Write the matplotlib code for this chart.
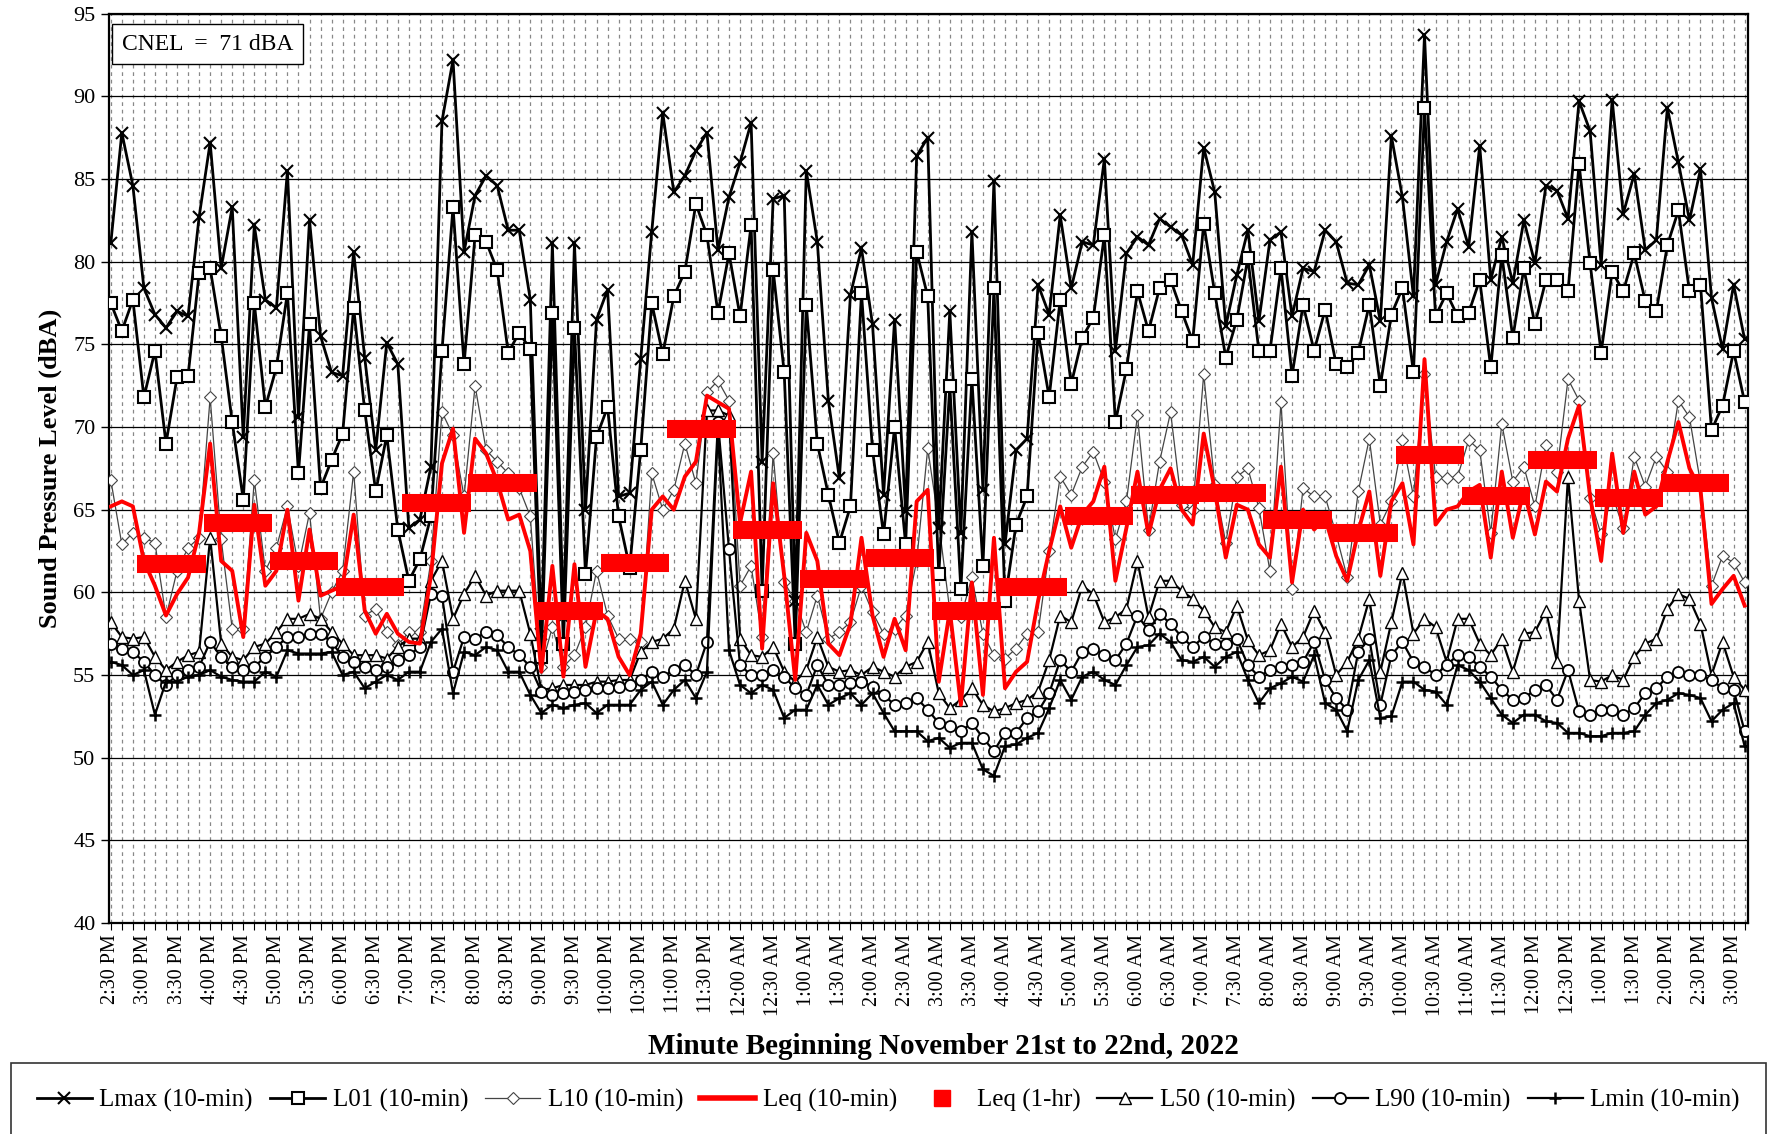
import matplotlib.pyplot as plt
import numpy as np
from matplotlib.lines import Line2D

plt.rcParams['font.family'] = ['Liberation Serif', 'DejaVu Serif']

# 10-minute values, 2:30 PM Nov 21 to 3:10 PM Nov 22
lmax = [81.1, 87.8, 84.6, 78.4, 76.8, 76.0, 77.0, 76.7, 82.7, 87.2, 79.6, 83.3, 69.4, 82.2, 77.7, 77.2, 85.5, 70.6, 82.5, 75.5,
        73.3, 73.1, 80.6, 74.2, 68.6, 75.1, 73.8, 63.9, 64.4, 67.6, 88.5, 92.2, 80.6, 84.0, 85.2, 84.6, 81.9, 81.9, 77.7, 57.5,
        81.1, 58.5, 81.1, 65.0, 76.5, 78.3, 65.8, 66.0, 74.1, 81.8, 89.0, 84.2, 85.2, 86.7, 87.8, 80.7, 83.9, 86.0, 88.4, 67.9,
        83.8, 84.0, 59.5, 85.5, 81.2, 71.6, 66.9, 78.0, 80.8, 76.2, 65.9, 76.5, 64.9, 86.4, 87.5, 63.9, 77.0, 63.6, 81.8, 66.2,
        84.9, 62.9, 68.6, 69.3, 78.6, 76.8, 82.8, 78.4, 81.2, 81.0, 86.2, 74.6, 80.5, 81.5, 81.0, 82.6, 82.1, 81.6, 79.8, 86.9,
        84.2, 76.1, 79.2, 81.9, 76.4, 81.3, 81.8, 76.7, 79.6, 79.4, 81.9, 81.2, 78.7, 78.6, 79.8, 76.4, 87.6, 83.9, 77.9, 93.7,
        78.6, 81.2, 83.2, 80.9, 87.0, 78.9, 81.5, 78.7, 82.5, 79.9, 84.6, 84.3, 82.6, 89.7, 87.9, 79.8, 89.8, 82.9, 85.3, 80.7,
        81.3, 89.3, 86.0, 82.5, 85.6, 77.8, 74.7, 78.6, 75.3]
l01 = [77.5, 75.8, 77.7, 71.8, 74.6, 69.0, 73.0, 73.1, 79.3, 79.6, 75.5, 70.3, 65.6, 77.5, 71.2, 73.6, 78.1, 67.2, 76.2, 66.3,
       68.0, 69.6, 77.2, 71.0, 66.1, 69.5, 63.8, 60.7, 62.0, 64.6, 74.6, 83.3, 73.8, 81.6, 81.2, 79.5, 74.5, 75.7, 74.7, 56.1,
       76.9, 56.9, 76.0, 61.1, 69.4, 71.2, 64.6, 61.5, 68.6, 77.5, 74.4, 77.9, 79.4, 83.5, 81.6, 76.9, 80.5, 76.7, 82.2, 60.1,
       79.5, 73.3, 56.9, 77.4, 69.0, 65.9, 63.0, 65.2, 78.1, 68.6, 63.5, 70.0, 62.9, 80.6, 77.9, 61.1, 72.5, 60.2, 72.9, 61.6,
       78.4, 59.5, 64.1, 65.8, 75.7, 71.8, 77.7, 72.6, 75.4, 76.6, 81.6, 70.3, 73.5, 78.2, 75.8, 78.4, 78.9, 77.0, 75.2, 82.3,
       78.1, 74.2, 76.5, 80.2, 74.6, 74.6, 79.6, 73.1, 77.4, 74.6, 77.1, 73.8, 73.6, 74.5, 77.4, 72.5, 76.8, 78.4, 73.3, 89.3,
       76.7, 78.1, 76.7, 76.9, 78.9, 73.6, 80.4, 75.4, 79.6, 76.2, 78.9, 78.9, 78.2, 85.9, 79.9, 74.5, 79.4, 78.2, 80.5, 77.6,
       77.0, 81.0, 83.1, 78.2, 78.6, 69.8, 71.3, 74.6, 71.5]
l10 = [66.8, 62.9, 63.6, 63.3, 63.0, 58.5, 61.3, 62.7, 63.3, 71.8, 63.2, 57.8, 57.8, 66.8, 61.3, 62.7, 65.2, 61.6, 64.8, 58.4,
       60.0, 61.3, 67.3, 58.6, 59.0, 57.6, 56.8, 57.6, 57.6, 61.9, 70.9, 69.5, 65.8, 72.5, 68.6, 67.9, 67.2, 66.3, 64.6, 55.5,
       57.9, 55.5, 56.2, 57.9, 61.3, 58.6, 57.2, 57.2, 57.0, 67.2, 65.0, 66.2, 69.0, 66.6, 72.1, 72.8, 71.6, 60.4, 61.6, 57.3,
       68.4, 60.6, 59.5, 57.6, 59.8, 57.2, 57.6, 58.2, 60.4, 58.8, 57.5, 57.8, 58.6, 61.9, 68.7, 64.2, 58.9, 58.5, 60.9, 57.5,
       56.2, 56.0, 56.6, 57.5, 57.6, 62.5, 67.0, 65.9, 67.6, 68.5, 66.7, 63.2, 65.5, 70.7, 63.8, 67.9, 70.9, 65.3, 65.0, 73.2,
       66.5, 63.0, 67.0, 67.5, 65.1, 61.3, 71.5, 60.2, 66.3, 65.8, 65.8, 63.5, 60.9, 66.1, 69.3, 64.1, 65.5, 69.2, 65.8, 73.2,
       67.0, 66.9, 67.0, 69.2, 68.6, 63.6, 70.2, 66.7, 67.6, 65.2, 68.9, 67.3, 72.9, 71.6, 65.7, 63.5, 65.9, 63.9, 68.2, 66.4,
       68.2, 67.3, 71.6, 70.6, 66.6, 60.4, 62.2, 61.8, 60.6]
leq = [65.2, 65.5, 65.2, 61.9, 60.4, 58.6, 59.9, 60.9, 63.6, 69.0, 61.9, 61.3, 57.3, 65.3, 60.4, 61.3, 65.0, 59.5, 63.8, 59.8,
       60.1, 60.4, 64.7, 58.9, 57.5, 58.7, 57.5, 57.0, 56.9, 61.0, 67.8, 69.9, 63.6, 69.3, 68.4, 66.7, 64.4, 64.7, 62.5, 55.2,
       61.6, 54.9, 61.7, 55.5, 58.9, 58.4, 56.1, 55.0, 57.5, 65.0, 65.8, 65.0, 67.0, 67.9, 71.9, 71.5, 71.1, 64.2, 67.3, 56.6,
       66.6, 61.0, 54.7, 63.6, 61.9, 56.9, 56.2, 58.1, 63.3, 58.6, 56.1, 58.4, 56.5, 65.5, 66.2, 54.6, 58.9, 53.2, 60.6, 53.8,
       63.3, 54.2, 55.2, 55.8, 59.5, 62.5, 65.2, 62.7, 64.7, 65.5, 67.6, 60.7, 63.9, 67.3, 63.5, 66.2, 67.5, 65.0, 64.1, 69.6,
       66.2, 62.1, 65.3, 65.0, 62.9, 62.1, 67.6, 60.6, 65.0, 63.8, 64.5, 62.2, 60.7, 63.7, 66.1, 61.0, 65.5, 66.6, 62.9, 74.1,
       64.1, 65.0, 65.2, 66.1, 66.5, 62.1, 67.3, 63.3, 66.2, 63.5, 66.7, 66.1, 69.3, 71.3, 65.8, 61.9, 68.4, 63.6, 67.3, 64.7,
       65.2, 67.9, 70.3, 67.5, 66.2, 59.3, 60.2, 61.0, 59.2]
l50 = [58.2, 57.3, 57.2, 57.3, 56.1, 55.3, 55.8, 56.2, 56.4, 63.3, 56.9, 56.1, 55.9, 56.7, 56.9, 57.6, 58.4, 58.4, 58.7, 58.4,
       57.6, 56.9, 56.2, 56.2, 56.2, 56.0, 56.7, 57.2, 57.2, 60.7, 61.9, 58.4, 59.9, 61.0, 59.8, 60.1, 60.1, 60.1, 57.5, 54.1,
       54.2, 54.4, 54.4, 54.4, 54.6, 54.6, 54.7, 54.7, 56.4, 57.0, 57.2, 57.8, 60.7, 58.4, 71.0, 71.0, 70.7, 57.2, 56.2, 56.1,
       56.7, 55.2, 54.6, 55.3, 57.3, 55.5, 55.2, 55.3, 55.0, 55.5, 55.2, 54.9, 55.5, 55.8, 57.0, 53.9, 53.0, 53.5, 54.2, 53.2,
       52.8, 53.0, 53.3, 53.5, 54.0, 55.9, 58.6, 58.2, 60.4, 59.9, 58.2, 58.5, 59.0, 61.9, 58.5, 60.7, 60.7, 60.1, 59.6, 58.9,
       57.9, 57.6, 59.2, 57.1, 56.2, 56.5, 58.1, 56.7, 57.3, 58.9, 57.6, 55.0, 55.8, 57.2, 59.6, 55.2, 58.2, 61.2, 57.5, 58.4,
       57.9, 55.8, 58.4, 58.4, 56.9, 56.2, 57.2, 55.2, 57.5, 57.6, 58.9, 55.8, 67.0, 59.5, 54.7, 54.6, 55.0, 54.7, 56.1, 56.9,
       57.2, 59.0, 59.9, 59.6, 58.1, 55.0, 57.0, 54.9, 54.1]
l90 = [56.9, 56.6, 56.4, 55.8, 55.0, 54.4, 55.0, 55.3, 55.5, 57.0, 56.1, 55.5, 55.3, 55.5, 56.1, 56.7, 57.3, 57.3, 57.5, 57.5,
       57.0, 56.1, 55.8, 55.5, 55.3, 55.5, 55.9, 56.2, 56.7, 59.9, 59.8, 55.2, 57.3, 57.2, 57.6, 57.4, 56.7, 56.2, 55.5, 54.0,
       53.8, 53.9, 54.0, 54.1, 54.2, 54.2, 54.3, 54.4, 54.7, 55.2, 54.9, 55.3, 55.6, 55.0, 57.0, 70.3, 62.6, 55.6, 55.0, 55.0,
       55.3, 54.9, 54.2, 53.8, 55.6, 54.4, 54.4, 54.5, 54.6, 54.3, 53.8, 53.2, 53.3, 53.6, 52.9, 52.1, 51.9, 51.6, 52.1, 51.2,
       50.4, 51.5, 51.5, 52.4, 52.8, 53.9, 55.9, 55.2, 56.4, 56.6, 56.2, 55.9, 56.9, 58.6, 57.7, 58.7, 58.1, 57.3, 56.7, 57.3,
       56.9, 56.9, 57.2, 55.6, 54.9, 55.3, 55.5, 55.6, 55.8, 57.0, 54.7, 53.6, 52.9, 56.4, 57.2, 53.2, 56.2, 57.0, 55.8, 55.5,
       55.0, 55.6, 56.2, 56.1, 55.5, 54.9, 54.1, 53.5, 53.6, 54.1, 54.4, 53.5, 55.3, 52.8, 52.6, 52.9, 52.9, 52.6, 53.0, 53.9,
       54.2, 54.9, 55.2, 55.0, 55.0, 54.7, 54.2, 54.1, 51.6]
lmin = [55.8, 55.6, 55.0, 55.3, 52.6, 54.6, 54.6, 54.9, 55.0, 55.3, 54.9, 54.7, 54.6, 54.6, 55.2, 54.9, 56.5, 56.3, 56.3, 56.3,
        56.4, 55.0, 55.2, 54.2, 54.6, 55.0, 54.7, 55.2, 55.2, 57.0, 57.8, 53.9, 56.4, 56.2, 56.7, 56.5, 55.2, 55.2, 53.8, 52.7,
        53.2, 53.0, 53.2, 53.3, 52.7, 53.2, 53.2, 53.2, 54.1, 54.6, 53.2, 54.1, 54.7, 53.6, 55.2, 69.8, 56.5, 54.4, 53.9, 54.4,
        54.1, 52.4, 52.9, 52.9, 54.4, 53.2, 53.6, 53.9, 53.2, 53.9, 52.7, 51.6, 51.6, 51.6, 51.0, 51.2, 50.6, 50.9, 50.9, 49.3,
        48.9, 50.7, 50.8, 51.2, 51.5, 53.0, 54.7, 53.5, 54.9, 55.2, 54.7, 54.4, 55.6, 56.7, 56.8, 57.5, 57.0, 55.9, 55.8, 56.1,
        55.5, 56.1, 56.4, 54.7, 53.3, 54.2, 54.5, 54.9, 54.6, 56.2, 53.3, 52.9, 51.6, 54.7, 55.9, 52.4, 52.5, 54.6, 54.6, 54.1,
        54.0, 53.2, 55.6, 55.3, 54.6, 53.6, 52.6, 52.1, 52.6, 52.6, 52.2, 52.1, 51.5, 51.5, 51.3, 51.3, 51.5, 51.5, 51.6, 52.6,
        53.3, 53.5, 53.9, 53.8, 53.6, 52.2, 52.9, 53.3, 50.7]

# hourly Leq, 3 PM Nov 21 through 2 PM Nov 22
leq_hr = [61.7, 64.2, 61.9, 60.3, 65.4, 66.6, 58.9, 61.8, 69.9, 63.8, 60.8, 62.1,
          58.9, 60.3, 64.6, 65.9, 66.0, 64.4, 63.6, 68.3, 65.8, 68.0, 65.7, 66.6]

time_labels = ["2:30 PM", "3:00 PM", "3:30 PM", "4:00 PM", "4:30 PM", "5:00 PM", "5:30 PM", "6:00 PM",
               "6:30 PM", "7:00 PM", "7:30 PM", "8:00 PM", "8:30 PM", "9:00 PM", "9:30 PM", "10:00 PM",
               "10:30 PM", "11:00 PM", "11:30 PM", "12:00 AM", "12:30 AM", "1:00 AM", "1:30 AM", "2:00 AM",
               "2:30 AM", "3:00 AM", "3:30 AM", "4:00 AM", "4:30 AM", "5:00 AM", "5:30 AM", "6:00 AM",
               "6:30 AM", "7:00 AM", "7:30 AM", "8:00 AM", "8:30 AM", "9:00 AM", "9:30 AM", "10:00 AM",
               "10:30 AM", "11:00 AM", "11:30 AM", "12:00 PM", "12:30 PM", "1:00 PM", "1:30 PM", "2:00 PM",
               "2:30 PM", "3:00 PM"]

x = np.arange(len(lmax))

fig = plt.figure(figsize=(17.8, 11.34), dpi=100)
ax = fig.add_axes([0.061, 0.186, 0.921, 0.802])

ax.plot(x, lmax, color='black', lw=2, marker='x', ms=8, mew=1.5, zorder=4)
ax.plot(x, l01, color='black', lw=2, marker='s', ms=8, mfc='white', mec='black', mew=1.5, zorder=4)
ax.plot(x, l10, color='#444444', lw=0.9, marker='D', ms=6, mfc='white', mec='#444444', mew=0.8, zorder=3)
ax.plot(x, leq, color='red', lw=2.8, zorder=5)
# hourly Leq bars
hr_x = 5.5 + 6 * np.arange(len(leq_hr))
ax.hlines(leq_hr, hr_x - 3.1, hr_x + 3.1, colors='red', lw=13, zorder=6)
ax.plot(x, l50, color='black', lw=1.6, marker='^', ms=8, mfc='white', mec='black', mew=1.0, zorder=4)
ax.plot(x, l90, color='black', lw=1.6, marker='o', ms=8, mfc='white', mec='black', mew=1.3, zorder=4)
ax.plot(x, lmin, color='black', lw=1.6, marker='+', ms=9, mew=1.8, zorder=4)

ax.set_ylim(40, 95)
ax.set_yticks(np.arange(40, 96, 5))
ax.set_xlim(-0.2, 148.3)
ax.set_xticks(x)
lbls = [''] * len(x)
for k, t in enumerate(time_labels):
    lbls[3 * k] = t
ax.set_xticklabels(lbls, rotation=90, fontsize=14.5)
ax.tick_params(axis='x', length=5, width=0.8, direction='out', pad=3)
ax.tick_params(axis='y', labelsize=16, length=6, width=1)
ax.grid(axis='x', color='#888888', ls=(0, (3, 3)), lw=0.9, zorder=0)
ax.grid(axis='y', color='black', lw=0.9, zorder=0)
ax.set_axisbelow(True)
for s in ax.spines.values():
    s.set_linewidth(1.6)

ax.set_ylabel('Sound Pressure Level (dBA)', fontsize=19, fontweight='bold', labelpad=8)
fig.text(0.53, 0.0775, 'Minute Beginning November 21st to 22nd, 2022', ha='center', va='center',
         fontsize=21, fontweight='bold')

ax.text(0.008, 0.978, 'CNEL  =  71 dBA', transform=ax.transAxes, fontsize=17, va='top', ha='left',
        bbox=dict(facecolor='white', edgecolor='black', lw=1, pad=7), zorder=10)

handles = [
    Line2D([], [], color='black', lw=2, marker='x', ms=8, mew=1.5),
    Line2D([], [], color='black', lw=2, marker='s', ms=8, mfc='white', mec='black', mew=1.5),
    Line2D([], [], color='#444444', lw=0.9, marker='D', ms=6, mfc='white', mec='#444444', mew=0.8),
    Line2D([], [], color='red', lw=4),
    Line2D([], [], color='red', lw=0, marker='s', ms=11),
    Line2D([], [], color='black', lw=1.6, marker='^', ms=8, mfc='white', mec='black', mew=1.0),
    Line2D([], [], color='black', lw=1.6, marker='o', ms=8, mfc='white', mec='black', mew=1.3),
    Line2D([], [], color='black', lw=1.6, marker='+', ms=9, mew=1.8),
]
names = ['Lmax (10-min)', 'L01 (10-min)', 'L10 (10-min)', 'Leq (10-min)', 'Leq (1-hr)',
         'L50 (10-min)', 'L90 (10-min)', 'Lmin (10-min)']
leg = fig.legend(handles, names, loc='upper left', bbox_to_anchor=(0.006, 0.0, 0.986, 0.0625), mode='expand',
                 ncol=8, fontsize=18, frameon=True, fancybox=False, edgecolor='black', handlelength=2.2,
                 handletextpad=0.3, columnspacing=0.5, borderaxespad=0, borderpad=1.05)
leg.get_frame().set_linewidth(1.2)

fig.savefig('out.png', dpi=100)
